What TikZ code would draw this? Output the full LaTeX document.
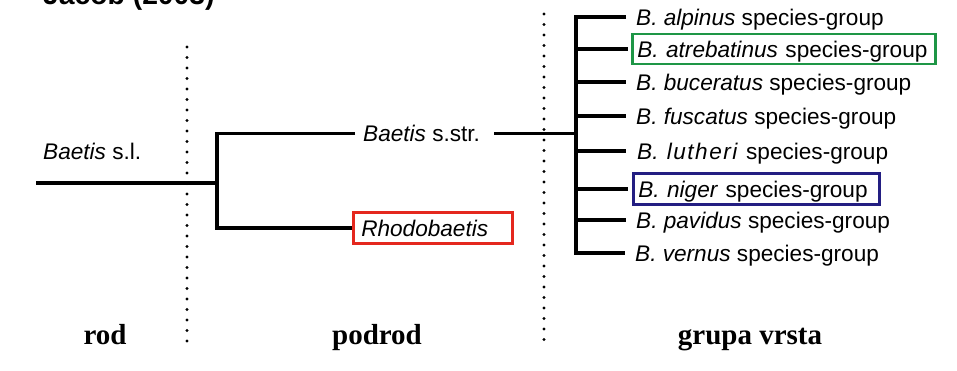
\documentclass[tikz,border=0pt]{standalone}
\usepackage{fontspec}
\setmainfont{Liberation Sans}
\newfontfamily\labfont{Liberation Serif}
\definecolor{boxred}{RGB}{228,40,30}
\definecolor{boxgreen}{RGB}{30,150,70}
\definecolor{boxblue}{RGB}{35,30,130}
\begin{document}
\begin{tikzpicture}[x=1pt,y=-1pt,
  tree/.style={line width=3.3pt, line join=miter},
  dots/.style={line width=3.4pt, line cap=round, dash pattern=on 0pt off 10.5pt},
  txt/.style={font=\fontsize{22.6}{27}\selectfont, inner xsep=0pt, inner ysep=0pt, text height=16.2pt, text depth=0pt, anchor=west},
  boxed/.style={txt, draw=#1, line width=2.5pt, inner xsep=5pt, inner ysep=7pt, align=left},
  lab/.style={font=\labfont\bfseries\fontsize{29}{32}\selectfont, anchor=base, inner sep=0pt}
]
\useasboundingbox (0,0) rectangle (957,371);
\clip (0,0) rectangle (957,371);
\fill[white] (0,0) rectangle (957,371);

% partially visible title
\node[font=\bfseries\fontsize{28.3}{32}\selectfont, anchor=base west, inner sep=0pt] (title) at (43,5) {Jacob (2003)};

% dotted separators
\coordinate (d1a) at (187,47);
\coordinate (d1b) at (187,342);
\coordinate (d2a) at (544,14);
\coordinate (d2b) at (544,342);
\draw[dots] (d1a) -- (d1b);
\draw[dots] (d2a) -- (d2b);

% genus level
\coordinate (r0) at (36,183);
\coordinate (j1) at (217,183);
\node[txt] (sl) at (43,151) {\textit{Baetis} s.l.};

% subgenus level
\node[txt] (sstr) at (363,133.5) {\textit{Baetis} s.str.};
\node[boxed=boxred, text width=143pt, inner xsep=8pt, inner ysep=7.4pt] (rhodo) at (352,228) {\textit{Rhodobaetis}};

% species-group level
\coordinate (j2) at (576,133.5);
\node[txt] (sp1) at (636,17) {\textit{B. alpinus} species-group};
\node[boxed=boxgreen, text width=293pt] (sp2) at (631,49) {\textit{B. atrebatinus} species-group};
\node[txt] (sp3) at (636,82) {\textit{B. buceratus} species-group};
\node[txt] (sp4) at (636,116) {\textit{B. fuscatus} species-group};
\node[txt] (sp5) at (637,151) {\textit{B.\ \kern2pt l\kern1.5pt u\kern1.5pt t\kern1.5pt h\kern1.5pt e\kern1.5pt r\kern1.5pt i}\kern2pt{} species-group};
\node[boxed=boxblue, text width=236pt, inner ysep=7.4pt] (sp6) at (632,189) {\textit{B. niger} species-group};
\node[txt] (sp7) at (636,220) {\textit{B. pavidus} species-group};
\node[txt] (sp8) at (635,253) {\textit{B. vernus} species-group};

% tree
\draw[tree] (r0) -- (j1);
\draw[tree] ([xshift=-8pt]sstr.west) -| (j1) |- (rhodo.west);
\draw[tree] ([xshift=14pt]sstr.east) -- (j2);
\draw[tree] ([xshift=-10pt]sp1.west) -| (j2) |- ([xshift=-10pt]sp8.west);
\draw[tree] (j2 |- sp2.west) -- ([xshift=-3pt]sp2.west);
\draw[tree] (j2 |- sp3.west) -- ([xshift=-10pt]sp3.west);
\draw[tree] (j2 |- sp4.west) -- ([xshift=-10pt]sp4.west);
\draw[tree] (j2 |- sp5.west) -- ([xshift=-11pt]sp5.west);
\draw[tree] (j2 |- sp6.west) -- ([xshift=-4pt]sp6.west);
\draw[tree] (j2 |- sp7.west) -- ([xshift=-10pt]sp7.west);

% rank labels
\node[lab] (rod) at (105,344) {rod};
\node[lab] (podrod) at (377,344) {podrod};
\node[lab] (grupa) at (750,344) {grupa vrsta};
\end{tikzpicture}
\end{document}
